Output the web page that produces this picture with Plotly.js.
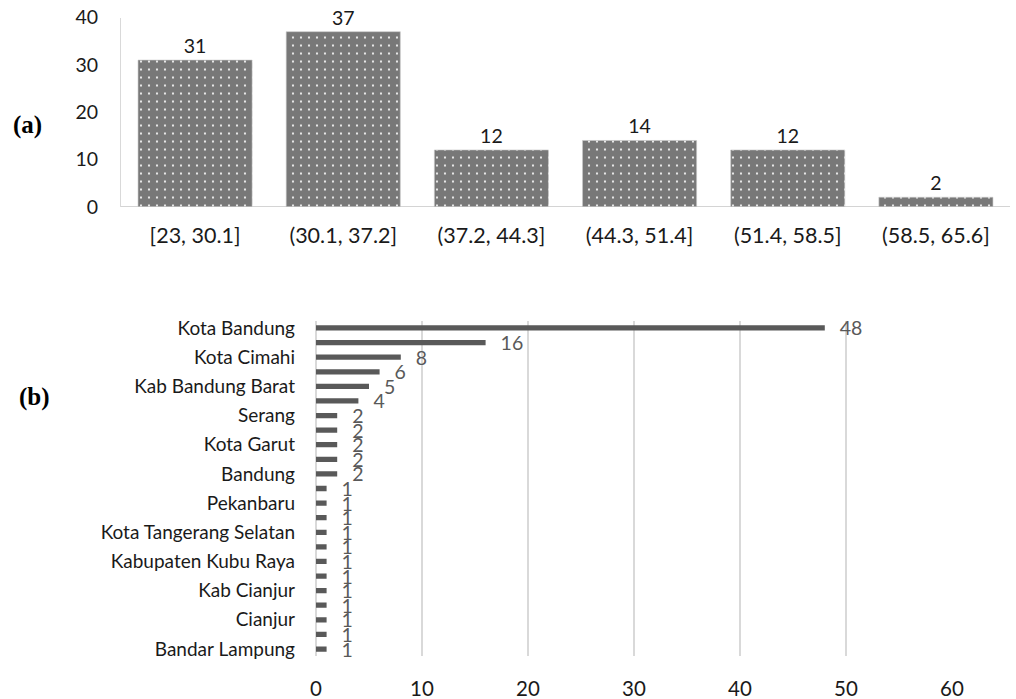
<!DOCTYPE html>
<html>
<head>
<meta charset="utf-8">
<script src="https://cdn.plot.ly/plotly-3.0.1.min.js"></script>
<style>html,body{margin:0;padding:0;background:#fff}#chart{width:1016px;height:699px}</style>
</head>
<body>
<div id="chart"></div>
<script>
// (a) histogram
const binLabels = ["[23, 30.1]", "(30.1, 37.2]", "(37.2, 44.3]", "(44.3, 51.4]", "(51.4, 58.5]", "(58.5, 65.6]"];
const binCounts = [31, 37, 12, 14, 12, 2];

// (b) locations, ranked; only every other label is printed in the original
const locRank = [1,2,3,4,5,6,7,8,9,10,11,12,13,14,15,16,17,18,19,20,21,22,23];
const locCounts = [48,16,8,6,5,4,2,2,2,2,2,1,1,1,1,1,1,1,1,1,1,1,1];
const shownRank = [1,3,5,7,9,11,13,15,17,19,21,23];
const shownLabels = ["Kota Bandung","Kota Cimahi","Kab Bandung Barat","Serang","Kota Garut","Bandung",
  "Pekanbaru","Kota Tangerang Selatan","Kabupaten Kubu Raya","Kab Cianjur","Cianjur","Bandar Lampung"];

const FONT = "Lato, 'Open Sans', sans-serif";
const SERIF = "'Liberation Serif', 'DejaVu Serif', serif";

const traceA = {
  type: "bar", x: binLabels, y: binCounts, xaxis: "x", yaxis: "y",
  marker: {color: "#787878", line: {color: "#c8c8c8", width: 0.6},
    pattern: {shape: ".", fgcolor: "#ffffff", bgcolor: "#787878", size: 8, solidity: 0.06, fillmode: "replace"}},
  text: binCounts.map(String), textposition: "outside", cliponaxis: false, constraintext: "none",
  textfont: {family: FONT, size: 19.5, color: "#1a1a1a"}, hoverinfo: "x+y"
};

const traceB = {
  type: "bar", orientation: "h", x: locCounts, y: locRank, xaxis: "x2", yaxis: "y2",
  marker: {color: "#595959"}, width: 0.36,
  text: locCounts.map(String), texttemplate: "   %{x}", textposition: "outside", cliponaxis: false, constraintext: "none",
  textfont: {family: FONT, size: 19.5, color: "#595959"}
};

const layout = {
  width: 1016, height: 699, margin: {l: 0, r: 0, t: 0, b: 0},
  paper_bgcolor: "#fff", plot_bgcolor: "rgba(0,0,0,0)", showlegend: false,
  font: {family: FONT, color: "#1a1a1a"},
  bargap: 0.23,
  xaxis: {domain: [121/1016, 1010/1016], type: "category", showgrid: false, zeroline: false,
    showline: false, ticks: "", ticklabelstandoff: 14, tickfont: {family: FONT, size: 21.5, color: "#1a1a1a"}},
  yaxis: {domain: [1 - 206.7/699, 1 - 17.5/699], range: [0, 40], tickvals: [0,10,20,30,40], showgrid: false,
    zeroline: true, zerolinecolor: "#d4d4d4", zerolinewidth: 1.5, showline: true, linecolor: "#d9d9d9", linewidth: 1,
    ticks: "", ticklabelstandoff: 18, tickfont: {family: FONT, size: 19.5, color: "#1a1a1a"}},
  xaxis2: {domain: [316/1016, 952/1016], range: [0, 60], tickvals: [0,10,20,30,40,50,60], anchor: "y2",
    showgrid: true, gridcolor: "#d9d9d9", gridwidth: 1.3, zeroline: true, zerolinecolor: "#d9d9d9", zerolinewidth: 1.3,
    showline: false, ticks: "", ticklabelstandoff: 18, tickfont: {family: FONT, size: 20.5, color: "#1a1a1a"}},
  yaxis2: {domain: [1 - 656.3/699, 1 - 320.7/699], range: [23.5, 0.5], anchor: "x2", tickvals: shownRank, ticktext: shownLabels,
    showgrid: false, zeroline: false, showline: false, ticks: "", ticklabelstandoff: 20,
    tickfont: {family: FONT, size: 19, color: "#1a1a1a"}},
  annotations: [
    {text: "<b>(a)</b>", xref: "paper", yref: "paper", x: 11/1016, y: 1 - 125/699, xanchor: "left", yanchor: "middle",
      showarrow: false, font: {family: SERIF, size: 25, color: "#000"}},
    {text: "<b>(b)</b>", xref: "paper", yref: "paper", x: 17/1016, y: 1 - 397/699, xanchor: "left", yanchor: "middle",
      showarrow: false, font: {family: SERIF, size: 25, color: "#000"}}
  ]
};

Plotly.newPlot("chart", [traceA, traceB], layout, {displayModeBar: false, staticPlot: true});
</script>
</body>
</html>
